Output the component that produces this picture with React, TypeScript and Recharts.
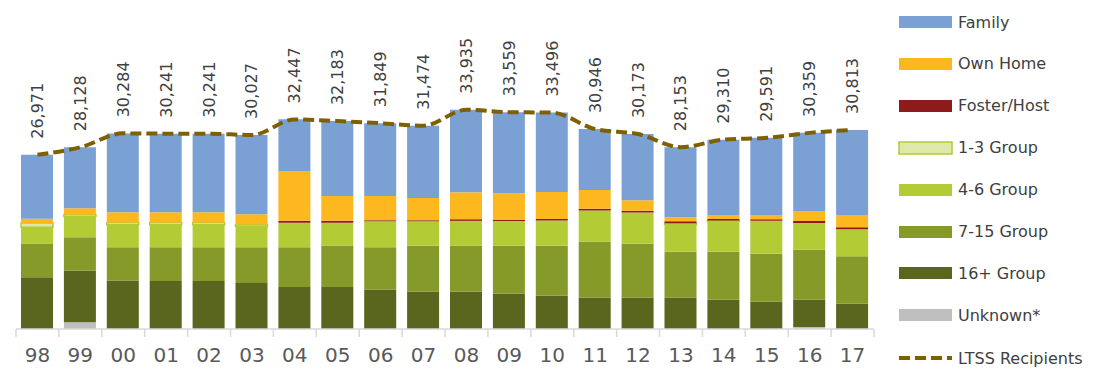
import React from 'react';
import { ComposedChart, Bar, Line, XAxis, YAxis, Legend, LabelList } from 'recharts';

const years = ['98', '99', '00', '01', '02', '03', '04', '05', '06', '07', '08', '09', '10', '11', '12', '13', '14', '15', '16', '17'];
const unknown = [0, 1030, 0, 0, 0, 0, 0, 0, 0, 0, 0, 0, 0, 0, 0, 0, 0, 0, 300, 0];
const group16 = [8030, 8030, 7520, 7420, 7420, 7110, 6490, 6490, 6130, 5820, 5820, 5510, 5200, 4890, 4890, 4890, 4530, 4220, 4220, 3910];
const group7to15 = [5150, 5150, 5150, 5250, 5250, 5560, 6180, 6440, 6540, 7060, 7060, 7360, 7670, 8650, 8290, 7060, 7420, 7420, 7730, 7360];
const group4to6 = [2575, 3190, 3450, 3450, 3450, 3240, 3760, 3500, 4020, 3810, 3860, 3860, 3910, 4790, 4840, 4220, 4690, 5100, 4170, 4170];
const group1to3 = [650, 310, 360, 360, 360, 260, 0, 0, 0, 0, 0, 0, 0, 0, 0, 200, 150, 0, 0, 0];
const fosterHost = [0, 0, 0, 0, 0, 0, 310, 310, 150, 150, 250, 150, 250, 300, 300, 300, 250, 250, 300, 300];
const ownHome = [670, 980, 1600, 1600, 1600, 1600, 7730, 3860, 3760, 3450, 4170, 4120, 4170, 2880, 1600, 620, 620, 670, 1550, 1910];
const family = [9880, 9440, 12200, 12160, 12160, 12260, 7980, 11580, 11250, 11180, 12780, 12560, 12300, 9440, 10250, 10860, 11650, 11930, 12090, 13160];
const ltss = [26971, 28128, 30284, 30241, 30241, 30027, 32447, 32183, 31849, 31474, 33935, 33559, 33496, 30946, 30173, 28153, 29310, 29591, 30359, 30813];

const FONT = '"DejaVu Sans", sans-serif';

const chartData = years.map((year, i) => ({
  year,
  unknown: unknown[i],
  group16: group16[i],
  group7to15: group7to15[i],
  group4to6: group4to6[i],
  group1to3: group1to3[i],
  fosterHost: fosterHost[i],
  ownHome: ownHome[i],
  family: family[i],
  ltss: ltss[i],
}));

const legendItems = [
  { name: 'Family', fill: '#7BA1D4' },
  { name: 'Own Home', fill: '#FDB71F' },
  { name: 'Foster/Host', fill: '#8E1B1B' },
  { name: '1-3 Group', fill: '#DCE9AB', stroke: '#B3CB35' },
  { name: '4-6 Group', fill: '#B3CB35' },
  { name: '7-15 Group', fill: '#869A29' },
  { name: '16+ Group', fill: '#5A651D' },
  { name: 'Unknown*', fill: '#BFBFBF' },
];

const HALF_BAND = 21.45;

const CategoryTick = (props: any) => {
  const { x, y, payload, index } = props;
  const isLast = index === years.length - 1;
  return (
    <g>
      <line x1={x - HALF_BAND} y1={y - 8} x2={x - HALF_BAND} y2={y} stroke="#D9D9D9" strokeWidth={1.5} />
      {isLast && <line x1={x + HALF_BAND} y1={y - 8} x2={x + HALF_BAND} y2={y} stroke="#D9D9D9" strokeWidth={1.5} />}
      <text x={x} y={y + 25} textAnchor="middle" fill="#595959" fontSize={20} fontFamily={FONT}>
        {payload.value}
      </text>
    </g>
  );
};

const TotalLabel = (props: any) => {
  const { x, y, value } = props;
  const ty = y - 16;
  return (
    <text
      x={x}
      y={ty}
      transform={`rotate(-90, ${x}, ${ty})`}
      textAnchor="start"
      dominantBaseline="central"
      fill="#404040"
      fontSize={16}
      fontFamily={FONT}
    >
      {value.toLocaleString('en-US')}
    </text>
  );
};

const CustomLegend = () => (
  <div style={{ position: 'relative', fontFamily: FONT, fontSize: 16, color: '#404040' }}>
    {legendItems.map((item, i) => (
      <div key={item.name} style={{ position: 'absolute', top: 22 + i * 41.9 - 10, left: 0, height: 20, display: 'flex', alignItems: 'center' }}>
        <svg width={60} height={20}>
          <rect
            x={1}
            y={4}
            width={53}
            height={12}
            fill={item.fill}
            stroke={item.stroke ?? 'none'}
            strokeWidth={item.stroke ? 1.5 : 0}
          />
        </svg>
        <span style={{ whiteSpace: 'nowrap' }}>{item.name}</span>
      </div>
    ))}
    <div style={{ position: 'absolute', top: 358 - 10, left: 0, height: 20, display: 'flex', alignItems: 'center' }}>
      <svg width={60} height={20}>
        <line x1={1} y1={10} x2={54} y2={10} stroke="#7F6000" strokeWidth={4} strokeDasharray="11 5" />
      </svg>
      <span style={{ whiteSpace: 'nowrap' }}>LTSS Recipients</span>
    </div>
  </div>
);

export default function App() {
  return (
    <div style={{ position: 'absolute', left: 0, top: 0, background: '#fff' }}>
      <ComposedChart width={1112} height={380} data={chartData} margin={{ top: 6, right: 238, left: 16, bottom: 0 }}>
        <XAxis
          dataKey="year"
          height={51}
          tickLine={false}
          axisLine={{ stroke: '#D9D9D9', strokeWidth: 1.5 }}
          tick={<CategoryTick />}
          interval={0}
        />
        <YAxis hide domain={[0, 50000]} />
        <Bar dataKey="unknown" stackId="a" fill="#BFBFBF" barSize={32} isAnimationActive={false} />
        <Bar dataKey="group16" stackId="a" fill="#5A651D" barSize={32} isAnimationActive={false} />
        <Bar dataKey="group7to15" stackId="a" fill="#869A29" barSize={32} isAnimationActive={false} />
        <Bar dataKey="group4to6" stackId="a" fill="#B3CB35" barSize={32} isAnimationActive={false} />
        <Bar dataKey="group1to3" stackId="a" fill="#DCE9AB" stroke="#B3CB35" strokeWidth={1.5} barSize={32} isAnimationActive={false} />
        <Bar dataKey="fosterHost" stackId="a" fill="#8E1B1B" barSize={32} isAnimationActive={false} />
        <Bar dataKey="ownHome" stackId="a" fill="#FDB71F" barSize={32} isAnimationActive={false} />
        <Bar dataKey="family" stackId="a" fill="#7BA1D4" barSize={32} isAnimationActive={false} />
        <Line
          type="monotone"
          dataKey="ltss"
          stroke="#7F6000"
          strokeWidth={4}
          strokeDasharray="11 5"
          dot={false}
          isAnimationActive={false}
        >
          <LabelList dataKey="ltss" content={<TotalLabel />} />
        </Line>
        <Legend
          layout="horizontal"
          align="center"
          verticalAlign="middle"
          content={<CustomLegend />}
          wrapperStyle={{ left: 898, top: 0, width: 214, height: 380 }}
        />
      </ComposedChart>
    </div>
  );
}
